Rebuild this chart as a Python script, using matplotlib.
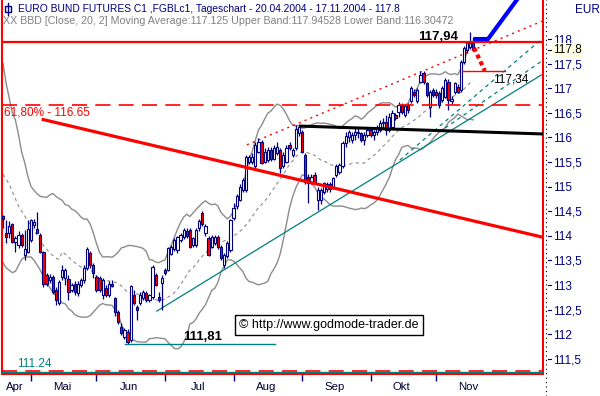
import numpy as np
import pandas as pd
import matplotlib
matplotlib.use('Agg')
import matplotlib.pyplot as plt
from matplotlib.patches import Rectangle
from matplotlib.lines import Line2D
import matplotlib.transforms as mtransforms

plt.rcParams['font.family'] = ['Liberation Sans', 'DejaVu Sans']

# ---------------- data ----------------
start_date = '2004-04-20'
end_date = '2004-11-17'

opens = [114.40, 114.05, 114.05, 114.25, 113.88, 113.81, 114.02, 113.61, 113.68, 113.91,
         114.22, 114.13, 114.02, 113.68, 113.20, 113.10, 113.17, 112.90, 112.63, 113.17,
         113.15, 113.12, 112.90, 113.03, 112.83, 113.00, 113.10, 113.34, 113.66, 113.41,
         113.17, 113.14, 112.80, 112.93, 112.80, 113.03, 112.73, 112.46, 112.15, 111.95,
         112.05, 111.88, 112.80, 112.56, 112.63, 112.73, 112.83, 112.70, 112.76, 113.20,
         112.76, 113.04, 113.30, 113.30, 113.64, 113.74, 113.71, 113.92, 113.98, 114.10,
         114.12, 113.81, 113.81, 114.15, 114.46, 114.05, 113.95, 113.78, 113.85, 113.98,
         113.78, 113.41, 113.58, 113.71, 114.36, 114.60, 114.73, 114.93, 114.93, 115.51,
         115.51, 115.41, 115.71, 115.91, 115.51, 115.54, 115.74, 115.57, 115.68, 115.74,
         115.41, 115.51, 115.85, 115.64, 115.78, 116.08, 116.12, 115.64, 115.20, 115.10,
         115.24, 114.73, 114.73, 114.90, 114.95, 115.05, 114.99, 115.24, 115.30, 115.41,
         115.88, 116.00, 115.95, 116.05, 116.10, 116.08, 115.95, 116.05, 116.15, 116.05,
         116.10, 116.15, 116.29, 116.32, 116.15, 116.22, 116.45, 116.52, 116.66, 116.46,
         116.66, 116.73, 116.93, 116.73, 117.13, 117.30, 117.10, 116.62, 116.96, 116.93,
         116.90, 116.76, 116.83, 117.13, 116.73, 116.93, 117.03, 116.96, 117.54, 117.78,
         117.84, 117.94]
highs = [114.42, 114.32, 114.30, 114.27, 114.00, 114.10, 114.05, 114.12, 114.32, 114.35,
         114.35, 114.48, 114.05, 113.70, 113.25, 113.22, 113.20, 112.95, 113.10, 113.40,
         113.35, 113.20, 113.05, 113.08, 113.08, 113.15, 113.40, 113.78, 113.70, 113.45,
         113.20, 113.18, 113.15, 113.00, 113.08, 113.10, 112.75, 112.50, 112.22, 112.12,
         112.10, 113.00, 112.90, 112.60, 112.85, 112.90, 112.88, 112.82, 113.40, 113.25,
         112.85, 113.20, 113.35, 113.78, 113.82, 113.95, 114.00, 114.06, 114.16, 114.15,
         114.15, 113.98, 114.16, 114.35, 114.50, 114.25, 114.00, 114.02, 114.02, 114.02,
         113.82, 113.65, 113.90, 114.35, 114.66, 114.85, 115.05, 115.18, 115.65, 115.65,
         115.68, 115.90, 115.98, 115.95, 115.78, 115.80, 115.80, 115.85, 115.90, 115.78,
         115.70, 115.85, 115.90, 115.78, 116.25, 116.25, 116.15, 115.68, 115.25, 115.25,
         115.30, 115.00, 114.98, 115.10, 115.10, 115.10, 115.20, 115.45, 115.48, 115.92,
         116.10, 116.15, 116.10, 116.20, 116.20, 116.12, 116.10, 116.20, 116.22, 116.15,
         116.25, 116.35, 116.40, 116.45, 116.50, 116.55, 116.50, 116.72, 116.70, 116.68,
         116.70, 117.05, 116.98, 117.00, 117.34, 117.36, 117.12, 116.96, 117.00, 116.98,
         116.95, 117.05, 117.20, 117.18, 116.85, 117.12, 117.08, 117.58, 117.85, 117.96,
         118.15, 118.05]
lows = [114.15, 113.85, 113.95, 113.85, 113.68, 113.75, 113.78, 113.51, 113.65, 113.88,
        114.15, 114.05, 113.65, 112.95, 112.98, 113.05, 112.82, 112.60, 112.60, 113.10,
        113.00, 112.69, 112.85, 112.80, 112.78, 112.95, 113.05, 113.30, 113.35, 113.15,
        112.85, 112.85, 112.72, 112.75, 112.75, 112.95, 112.36, 112.20, 111.98, 111.90,
        111.81, 111.85, 112.60, 112.29, 112.60, 112.70, 112.65, 112.66, 112.72, 112.98,
        112.65, 112.50, 113.20, 113.28, 113.60, 113.70, 113.65, 113.88, 113.94, 113.95,
        113.75, 113.78, 113.78, 114.10, 114.20, 114.00, 113.58, 113.75, 113.82, 113.74,
        113.50, 113.34, 113.55, 113.68, 114.32, 114.55, 114.70, 114.90, 114.90, 115.45,
        115.45, 115.38, 115.68, 115.45, 115.48, 115.50, 115.52, 115.54, 115.65, 115.27,
        115.38, 115.48, 115.75, 115.60, 115.75, 116.02, 115.68, 115.05, 114.66, 115.05,
        115.05, 114.52, 114.65, 114.85, 114.90, 114.90, 114.95, 115.20, 115.25, 115.38,
        115.80, 115.90, 115.88, 115.95, 115.98, 115.90, 115.85, 116.00, 116.00, 115.95,
        116.05, 116.10, 116.20, 116.05, 116.10, 116.20, 116.35, 116.42, 116.48, 116.42,
        116.50, 116.70, 116.82, 116.70, 117.10, 117.08, 116.82, 116.42, 116.82, 116.80,
        116.60, 116.72, 116.80, 116.56, 116.68, 116.88, 116.90, 116.92, 117.50, 117.72,
        117.80, 117.75]
closes = [114.34, 113.97, 114.19, 113.88, 113.95, 114.02, 113.81, 113.74, 114.13, 114.32,
          114.29, 114.06, 113.68, 113.03, 113.03, 113.17, 112.86, 112.69, 113.07, 113.30,
          113.30, 112.86, 113.00, 112.86, 113.03, 113.10, 113.34, 113.74, 113.41, 113.24,
          112.90, 112.90, 113.10, 112.80, 113.03, 112.97, 112.46, 112.25, 112.02, 112.08,
          111.85, 112.97, 112.63, 112.49, 112.80, 112.86, 112.69, 112.80, 113.37, 113.00,
          112.70, 113.14, 113.24, 113.75, 113.78, 113.91, 113.98, 114.02, 114.12, 114.00,
          113.78, 113.95, 114.12, 114.30, 114.25, 114.20, 113.61, 113.98, 113.98, 113.78,
          113.54, 113.61, 113.85, 114.32, 114.56, 114.80, 115.00, 115.13, 115.61, 115.61,
          115.61, 115.85, 115.91, 115.47, 115.71, 115.74, 115.57, 115.78, 115.81, 115.37,
          115.64, 115.78, 115.78, 115.74, 116.18, 116.22, 115.71, 115.10, 115.07, 115.20,
          115.10, 114.93, 114.93, 115.07, 115.05, 114.95, 115.17, 115.41, 115.44, 115.88,
          116.02, 116.10, 116.05, 116.12, 116.08, 115.95, 116.05, 116.15, 116.05, 116.10,
          116.20, 116.29, 116.32, 116.15, 116.42, 116.49, 116.39, 116.66, 116.52, 116.63,
          116.56, 117.00, 116.86, 116.96, 117.27, 117.12, 116.86, 116.93, 116.86, 116.86,
          116.66, 117.00, 117.17, 116.76, 116.79, 117.10, 116.93, 117.54, 117.81, 117.91,
          117.91, 117.80]

# Bollinger values of the first 19 bars (window reaches back before the chart start)
bb_upper_head = [117.50, 117.10, 116.80, 116.50, 116.35, 116.05, 115.70, 115.48, 115.20, 115.00,
                 114.92, 114.85, 114.80, 114.79, 114.78, 114.83, 114.86, 114.80, 114.76]
bb_mid_head = [115.25, 115.15, 115.05, 114.90, 114.75, 114.60, 114.50, 114.40, 114.30, 114.20,
               114.10, 114.00, 113.90, 113.80, 113.73, 113.65, 113.60, 113.55, 113.52]
bb_lower_head = [113.45, 113.35, 113.30, 113.25, 113.28, 113.40, 113.52, 113.57, 113.57, 113.57,
                 113.50, 113.40, 113.30, 113.16, 113.05, 112.95, 112.85, 112.78, 112.72]

month_labels = ['Apr', 'Mai', 'Jun', 'Jul', 'Aug', 'Sep', 'Okt', 'Nov']
y_ticks = [111.5, 112, 112.5, 113, 113.5, 114, 114.5, 115, 115.5, 116, 116.5, 117, 117.5, 118]

last_price = 117.8
upper_line = 117.94
fib_level = 116.65
target_level = 117.34
low_level = 111.81
bottom_level = 111.24

# trend lines (bar index, price)
red_trend = ([12.4, 173.35], [116.37, 113.97])
black_trend = ([95.5, 173.35], [116.23, 116.07])
teal_trend = ([49.4, 173.35], [112.47, 117.29])
teal_dash1 = ([127.4, 173.35], [115.54, 118.02])
teal_dash2 = ([141.9, 173.35], [116.19, 117.57])
red_dotted = ([78.3, 173.35], [115.85, 118.37])
red_proj = ([151.2, 154.7], [117.82, 117.35])
blue_proj = ([151.8, 155.7, 165.0], [118.0, 118.0, 118.80])
target_seg = [147.3, 161.2]
low_seg = [39.2, 87.3]

# ---------------- figure ----------------
W, H = 600, 396
fig = plt.figure(figsize=(W / 100, H / 100), dpi=100)
fig.patch.set_facecolor('white')
ax = fig.add_axes([2 / W, 22 / H, 541 / W, 374 / H])
ax.set_xlim(-0.32, 173.35)
ax.set_ylim(111.191, 118.793)

navy = '#000080'
red = '#FF0000'
teal = '#008080'
gray = '#8C8C8C'

n = len(closes)
idx = np.arange(n)
cs = pd.Series(closes)
mid = cs.rolling(20).mean().to_numpy()
sd = cs.rolling(20).std(ddof=0).to_numpy()
up = mid + 2 * sd
lo = mid - 2 * sd
mid[:19] = bb_mid_head
up[:19] = bb_upper_head
lo[:19] = bb_lower_head

ax.plot(idx, up, color=gray, lw=1.0, zorder=2)
ax.plot(idx, lo, color=gray, lw=1.0, zorder=2)
ax.plot(idx, mid, color=gray, lw=0.8, ls=(0, (3, 3)), zorder=2)

# horizontal levels
ax.axhline(upper_line, color=red, lw=1.6, zorder=4)
ax.axhline(fib_level, color=red, lw=1.2, ls=(0, (9, 5)), zorder=4)
ax.axhline(bottom_level, color=teal, lw=1.0, zorder=4)
ax.axhline(bottom_level + 0.02, color=red, lw=1.2, ls=(0, (9, 5)), zorder=4)
ax.plot(target_seg, [target_level] * 2, color=red, lw=1.0, zorder=4)
ax.plot(low_seg, [low_level] * 2, color=teal, lw=1.0, zorder=4)

# trend lines
ax.plot(*teal_trend, color=teal, lw=0.9, zorder=2.5)
ax.plot(*teal_dash1, color=teal, lw=0.9, ls=(0, (3, 3)), zorder=2.5)
ax.plot(*teal_dash2, color=teal, lw=0.9, ls=(0, (3, 3)), zorder=2.5)
ax.plot(*red_dotted, color=red, lw=1.0, ls=(0, (1.5, 3)), zorder=2.5)

# candles
for i in range(n):
    o, h, l, c = opens[i], highs[i], lows[i], closes[i]
    ax.plot([i, i], [l, h], color=navy, lw=0.9, zorder=3, solid_capstyle='butt')
    bot = min(o, c)
    ht = max(abs(c - o), 0.012)
    fc = 'white' if c >= o else red
    ax.add_patch(Rectangle((i - 0.36, bot), 0.72, ht, facecolor=fc, edgecolor=navy,
                           lw=0.8, zorder=3.2))

ax.plot(*red_trend, color=red, lw=2.3, zorder=5, solid_capstyle='butt')
ax.plot(*black_trend, color='black', lw=2.2, zorder=5)
ax.plot(*red_proj, color=red, lw=3, ls=(0, (1, 0.8)), zorder=5)
ax.plot(*blue_proj, color='#0000FF', lw=3, zorder=5, clip_on=True)

# annotations
ax.text(146.0, upper_line + 0.05, '117,94', ha='right', va='baseline', fontsize=9.5,
        fontweight='bold', color='black', zorder=6)
ax.text(157.3, 117.17, '117,34', ha='left', va='center', fontsize=8.5, color='black', zorder=6)
ax.text(0.3, 116.50, '61,80% - 116.65', ha='left', va='center', fontsize=8.5, color=red, zorder=6)
ax.text(57.8, 111.94, '111,81', ha='left', va='center', fontsize=9.5, fontweight='bold',
        color='black', zorder=6)
ax.text(4.5, 111.40, '111.24', ha='left', va='center', fontsize=8.5, color=teal, zorder=6)

# axes style
for s in ax.spines.values():
    s.set_color(red)
    s.set_linewidth(1.5)
ax.spines['top'].set_visible(False)

# y axis on the right
ax.yaxis.tick_right()
ax.set_yticks(y_ticks)
ax.set_yticklabels([('%g' % v).replace('.', ',') for v in y_ticks])
ax.tick_params(axis='y', length=0, pad=7.0, labelsize=8.5, labelcolor=navy)

# x axis: ticks at month starts, labels at month middles
dates = pd.bdate_range(start_date, end_date)
months = dates.to_period('M')
starts = [i for i in range(1, n) if months[i] != months[i - 1]]
bounds = [-0.32] + starts + [min(starts[-1] + 22, 173.35)]
centers = [(bounds[k] + bounds[k + 1]) / 2 - 0.5 for k in range(len(bounds) - 1)]
ax.set_xticks(starts)
ax.set_xticklabels([])
ax.tick_params(axis='x', which='major', length=5, width=1, color=navy, direction='out', pad=0)
ax.set_xticks(centers, minor=True)
ax.set_xticklabels(month_labels, minor=True)
ax.tick_params(axis='x', which='minor', length=0, pad=5.5, labelsize=8.2, labelcolor='#000033')

# right-hand y-axis decorations (figure pixels)
trans = mtransforms.blended_transform_factory(fig.transFigure, ax.transData)
for v in y_ticks:
    fig.add_artist(Line2D([548 / W, 551 / W], [v, v], transform=trans, color=navy, lw=0.8))
fig.add_artist(Line2D([546 / W, 546 / W], [0, 1], transform=fig.transFigure,
                      color='black', lw=0.8, ls=(0, (1, 3))))
fig.text(553 / W, 1 - 50 / H, '117.8', ha='left', va='center', fontsize=8.5, color='black',
         zorder=20,
         bbox=dict(boxstyle='square,pad=0.12', facecolor='#FFFFE6', edgecolor='none'))
fig.add_artist(Line2D([548 / W, 551 / W], [1 - 50 / H] * 2, transform=fig.transFigure,
                      color='black', lw=0.8))
fig.text(587 / W, 1 - 10 / H, 'EUR', ha='center', va='center', fontsize=8.5, color=navy)

# header
fig.text(18 / W, 1 - 9 / H,
         'EURO BUND FUTURES C1 ,FGBLc1, Tageschart - 20.04.2004 - 17.11.2004 - 117.8',
         ha='left', va='center', fontsize=7.35, color=navy, zorder=10)
fig.add_artist(Line2D([8 / W, 8 / W], [1 - 3 / H, 1 - 15 / H], transform=fig.transFigure,
                      color=navy, lw=1))
fig.add_artist(Rectangle((5 / W, 1 - 12 / H), 6 / W, 6 / H, transform=fig.transFigure,
                         facecolor='white', edgecolor=navy, lw=1))
fig.text(3 / W, 1 - 21 / H,
         'XX BBD [Close, 20, 2] Moving Average:117.125 Upper Band:117.94528 Lower Band:116.30472',
         ha='left', va='center', fontsize=7.7, color='#808080', zorder=10)

# copyright box
fig.text(329 / W, 1 - 325 / H, '\u00a9 http://www.godmode-trader.de', ha='center', va='center',
         fontsize=9, color='black', zorder=10,
         bbox=dict(boxstyle='square,pad=0.35', facecolor='white', edgecolor='black', lw=1))

fig.savefig('out.png', dpi=100)
